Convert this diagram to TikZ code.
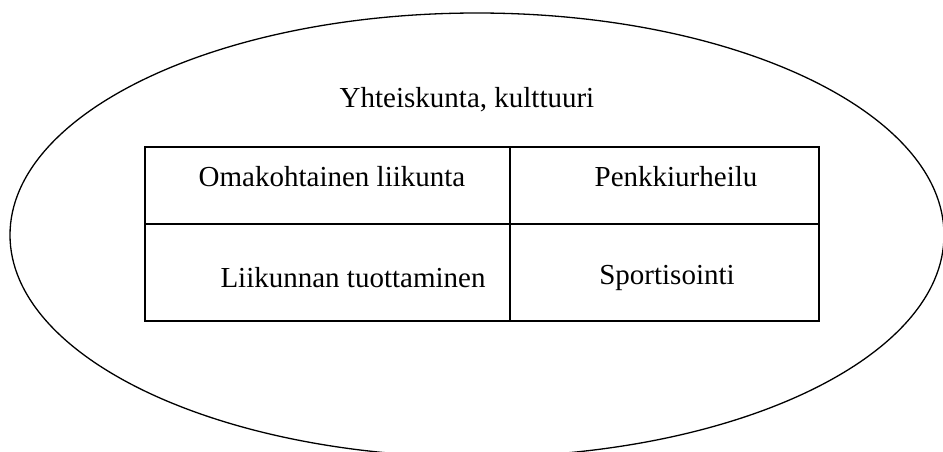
\documentclass[tikz,border=0pt]{standalone}
\usepackage{fontspec}
\setmainfont{Liberation Serif}
\usetikzlibrary{shapes.geometric, positioning}
\tikzstyle{cell} = [rectangle, draw, line width=1.5pt, outer sep=0pt, anchor=north west, minimum height=77pt]
\tikzstyle{celltext} = [text centered, font=\fontsize{29}{34}\selectfont]

\begin{document}
\begin{tikzpicture}[x=1pt, y=-1pt]
            \useasboundingbox (0,0) rectangle (943,451);
            \clip (0,0) rectangle (943,451);
            \node (kulttuuri) [ellipse, draw, line width=1.3pt, inner sep=0pt, minimum width=934pt, minimum height=444pt] at (477,235) {};
            \node (yhteiskunta) [celltext] at (467,100) {Yhteiskunta, kulttuuri};
            
            \node (c11) [cell, minimum width=365pt] at (145,147) {};
            \node (c12) [cell, minimum width=309pt] at (c11.north east) {};
            \node (c21) [cell, minimum width=365pt, minimum height=97pt] at (c11.south west) {};
            \node (c22) [cell, minimum width=309pt, minimum height=97pt] at (c12.south west) {};
            
            \node (omakoht) [celltext] at (332,177) {Omakohtainen liikunta};
            \node (penkki) [celltext] at (676,177) {Penkkiurheilu};
            \node (tuottam) [celltext] at (353,278) {Liikunnan tuottaminen};
            \node (sport) [celltext] at (667,278) {Sportisointi};
        \end{tikzpicture}
\end{document}
